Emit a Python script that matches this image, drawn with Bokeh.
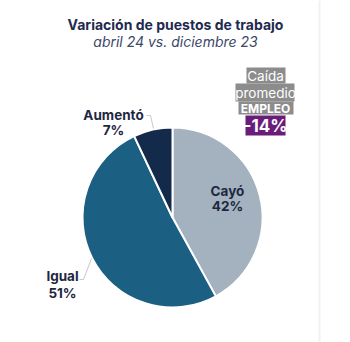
import numpy as np
from bokeh.plotting import figure
from bokeh.models import Range1d, Span
from bokeh.core.properties import value
from bokeh.embed import file_html
from bokeh.resources import INLINE

# data
categories = ["Cayó", "Igual", "Aumentó"]
shares = [42, 51, 7]
colors = ["#a3b2be", "#1b5f82", "#132a4a"]
pct_labels = ["42%", "51%", "7%"]
title = "Variación de puestos de trabajo"
subtitle = "abril 24 vs. diciembre 23"
box_lines = ["Caída", "promedio", "EMPLEO"]
box_value = "-14%"

W, H = 350, 342
FONT = "Inter"

p = figure(width=W, height=H, output_backend="svg", toolbar_location=None,
           x_range=Range1d(0, W), y_range=Range1d(0, H), min_border=0)
p.axis.visible = False
p.grid.visible = False
p.outline_line_color = None
p.background_fill_color = "white"
p.border_fill_color = "white"

def Y(y):
    return H - y

# faint vertical divider
p.add_layout(Span(location=319, dimension="height", line_color="#f2f2f2", line_width=2))

# pie
cx, cy, r = 172, 217, 90
vals = np.array(shares, dtype=float)
cum = np.cumsum(vals) / vals.sum()
before = np.concatenate([[0], cum[:-1]])
start = np.pi / 2 - 2 * np.pi * before
end = np.pi / 2 - 2 * np.pi * cum
p.wedge(x=[cx] * len(vals), y=[Y(cy)] * len(vals), radius=r, radius_units="screen",
        start_angle=list(start), end_angle=list(end), direction="clock",
        fill_color=colors, line_color="white", line_width=2)

# leader lines
p.line(x=[146, 150, 153], y=[Y(115), Y(115), Y(128)], line_color="#c8c8c8", line_width=1)
p.line(x=[79, 83, 91], y=[Y(279), Y(279), Y(258)], line_color="#c8c8c8", line_width=1)

lab_color = "#1e2742"
lab_pos = {"Cayó": (227, 190, 205), "Igual": (62, 275, 292), "Aumentó": (113, 114, 129)}
for cat, pct in zip(categories, pct_labels):
    x, y1, y2 = lab_pos[cat]
    p.text(x=[x], y=[Y(y1)], text=[cat], text_align="center", text_baseline="middle",
           text_font=value(FONT), text_font_style="bold", text_font_size="13.5px",
           text_color=lab_color)
    p.text(x=[x], y=[Y(y2)], text=[pct], text_align="center", text_baseline="middle",
           text_font=value(FONT), text_font_style="bold", text_font_size="13.5px",
           text_color=lab_color)

# title
p.text(x=[175], y=[Y(24)], text=[title], text_align="center", text_baseline="middle",
       text_font=value(FONT), text_font_style="bold", text_font_size="14px",
       text_color="#1f2a50")
p.text(x=[175], y=[Y(41)], text=[subtitle], text_align="center", text_baseline="middle",
       text_font=value(FONT), text_font_style="italic", text_font_size="14px",
       text_color="#3b4868")

# callout boxes
grey = "#8c8c8c"
boxes = [(246, 285, 67, 83), (235, 294, 83, 101), (238, 293, 101, 114)]
for (l, rr, t, b) in boxes:
    p.quad(left=[l], right=[rr], top=[Y(t)], bottom=[Y(b)], fill_color=grey, line_color=None)
p.quad(left=[245], right=[285], top=[Y(115)], bottom=[Y(135)], fill_color="#6a1c7b", line_color=None)

box_styles = [("normal", "13.5px", 75), ("normal", "13.5px", 92), ("bold", "12px", 108)]
for txt, (st, sz, yy) in zip(box_lines, box_styles):
    p.text(x=[265], y=[Y(yy)], text=[txt], text_align="center", text_baseline="middle",
           text_font=value(FONT), text_font_style=st, text_font_size=sz, text_color="white")
p.text(x=[265], y=[Y(125.5)], text=[box_value], text_align="center", text_baseline="middle",
       text_font=value(FONT), text_font_style="bold", text_font_size="17px", text_color="white")

open("out.html", "w").write(file_html(p, INLINE))
